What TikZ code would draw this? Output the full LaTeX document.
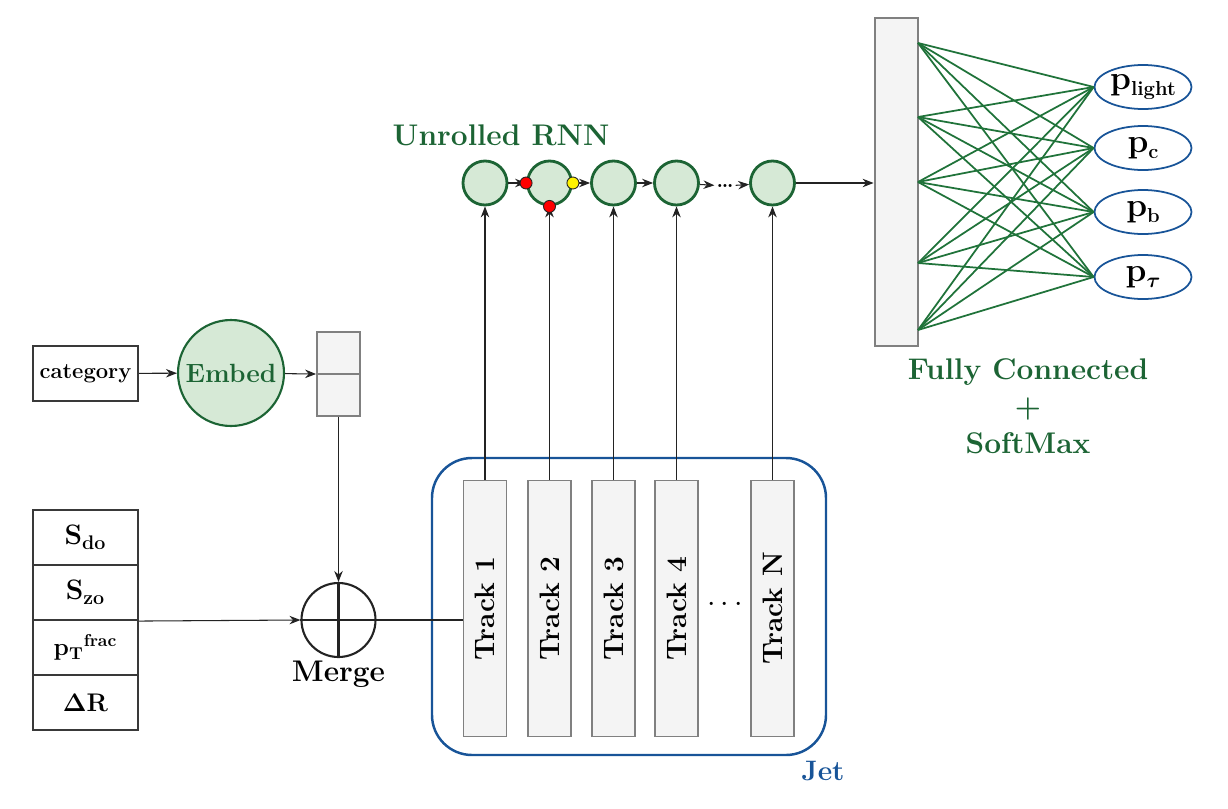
\documentclass[tikz,border=0pt]{standalone}
\usetikzlibrary{arrows.meta,positioning,shapes.geometric}
\definecolor{leafdk}{RGB}{28,100,52}
\definecolor{leafbg}{RGB}{214,233,214}
\definecolor{wire}{RGB}{32,115,58}
\definecolor{jetblue}{RGB}{24,84,152}
\definecolor{slate}{RGB}{128,128,128}
\definecolor{paper}{RGB}{244,244,244}
\definecolor{ink}{RGB}{35,35,35}
\newcommand{\low}[1]{\raisebox{-0.4ex}{\fontsize{11.5}{13}\selectfont #1}}
\tikzset{
  >={Stealth[length=2.2mm,width=1.7mm]},
  flow/.style={->,draw=ink,line width=0.6pt},
  cell/.style={draw=ink!90,line width=1.2pt,minimum width=21mm,minimum height=11mm,
    font=\fontsize{16}{19}\selectfont\bfseries,inner sep=0pt},
  bar/.style={draw=slate,fill=paper,line width=#1,minimum width=8.6mm,inner sep=0pt},
  bar/.default=1pt,
  unit/.style={circle,draw=leafdk,fill=leafbg,line width=1.6pt,minimum size=8.8mm,inner sep=0pt},
  gate/.style={circle,draw=ink,fill=#1,line width=0.5pt,minimum size=2.4mm,inner sep=0pt},
  prob/.style={ellipse,draw=jetblue,line width=1pt,minimum width=19.4mm,minimum height=8.8mm,
    inner sep=0pt,font=\fontsize{19}{22}\selectfont\bfseries},
  title/.style={text=leafdk,font=\fontsize{17}{21}\selectfont\bfseries,align=center},
  trklabel/.style={rotate=90,font=\fontsize{16}{19}\selectfont\bfseries},
}

\begin{document}
\begin{tikzpicture}
  \useasboundingbox (0,0) rectangle (24.56,-16.16);

  % embedding branch
  \node[cell,font=\fontsize{12.5}{14}\selectfont\bfseries] (cat) at (1.71,-7.47) {category};
  \node[unit,minimum size=21.2mm,line width=1.2pt,text=leafdk,font=\fontsize{15}{17}\selectfont\bfseries] (embed) at (4.62,-7.46) {Embed};
  \node[bar,minimum height=16.8mm] (embvec) at (6.77,-7.48) {};
  \draw[slate,line width=1pt] (embvec.west) -- (embvec.east);
  \draw[flow] (cat) -- (embed);
  \draw[flow] (embed) -- (embvec.west);

  % track variables
  \node[cell] (in1) at (1.71,-10.75) {S\textsubscript{do}};
  \node[cell] (in2) at (1.71,-11.85) {S\textsubscript{zo}};
  \node[cell,font=\fontsize{14}{17}\selectfont\bfseries] (in3) at (1.71,-12.95) {p\textsubscript{T}\textsuperscript{frac}};
  \node[cell,font=\fontsize{14.5}{17}\selectfont\bfseries] (in4) at (1.71,-14.05) {$\mathbf{\Delta}$R};

  \node[circle,draw=ink,line width=1.2pt,minimum size=14.8mm,inner sep=0pt] (merge) at (6.77,-12.4) {};
  \draw[ink,line width=1.2pt] (merge.north) -- (merge.south) (merge.west) -- (merge.east);
  \node[below=-2pt of merge,font=\fontsize{17}{20}\selectfont\bfseries] (mergelbl) {Merge};
  \draw[flow] (in2.south east) -- (merge.west);
  \draw[flow] (embvec.south) -- (merge.north);

  % jet with tracks and the unrolled RNN
  \node[draw=jetblue,line width=1.4pt,rounded corners=8mm,minimum width=78.8mm,minimum height=59.4mm] (jet) at (12.58,-12.13) {};
  \node[text=jetblue,font=\fontsize{16}{19}\selectfont\bfseries] (jetlbl) at (16.46,-15.42) {Jet};

  \foreach \x/\t [count=\i] in {9.7/1,10.99/2,12.27/3,13.53/4,15.45/N}{
    \node[bar,minimum height=51.2mm] (trk\i) at (\x,-12.17) {};
    \node[trklabel] at (trk\i) {Track \t};
    \node[unit] (rnn\i) at (\x,-3.66) {};
    \draw[flow] (trk\i.north) -- (rnn\i.south);
  }
  \node[font=\fontsize{16}{19}\selectfont] (tdots) at (14.5,-12.1) {$\cdots$};
  \draw[ink,line width=0.6pt] (merge.east) -- (merge.east -| trk1.west);

  \node[inner sep=1pt,font=\fontsize{12}{14}\selectfont\bfseries] (rdots) at (14.5,-3.72) {\dots};
  \draw[flow] (rnn1) -- (rnn2);
  \draw[flow] (rnn2) -- (rnn3);
  \draw[flow] (rnn3) -- (rnn4);
  \draw[flow] (rnn4) -- (rdots);
  \draw[flow] (rdots) -- (rnn5);
  \node[gate=red] (gin) at (rnn2.west) {};
  \node[gate=red] (gx) at (rnn2.south) {};
  \node[gate=yellow] (gout) at (rnn2.east) {};
  \node[title] (rnnlbl) at (10.02,-2.7) {Unrolled RNN};

  % dense layer and outputs
  \node[bar=1.6pt,minimum height=65.6mm] (fc) at (17.93,-3.64) {};
  \draw[flow] (rnn5.east) -- (rnn5.east -| fc.west);
  \foreach \y [count=\k] in {-0.86,-2.34,-3.64,-5.26,-6.6}
    \coordinate (h\k) at (18.36,\y);
  \node[prob] (o1) at (22.86,-1.74) {p\low{light}};
  \node[prob] (o2) at (22.86,-2.96) {p\low{c}};
  \node[prob] (o3) at (22.86,-4.24) {p\low{b}};
  \node[prob] (o4) at (22.86,-5.54) {p\low{\boldmath$\tau$}};
  \foreach \k in {1,...,5}
    \foreach \o in {1,...,4}
      \draw[wire,line width=1pt] (h\k) -- (o\o.west);
  \node[title] (fclbl) at (20.56,-8.13) {Fully Connected\\+\\SoftMax};
\end{tikzpicture}
\end{document}
